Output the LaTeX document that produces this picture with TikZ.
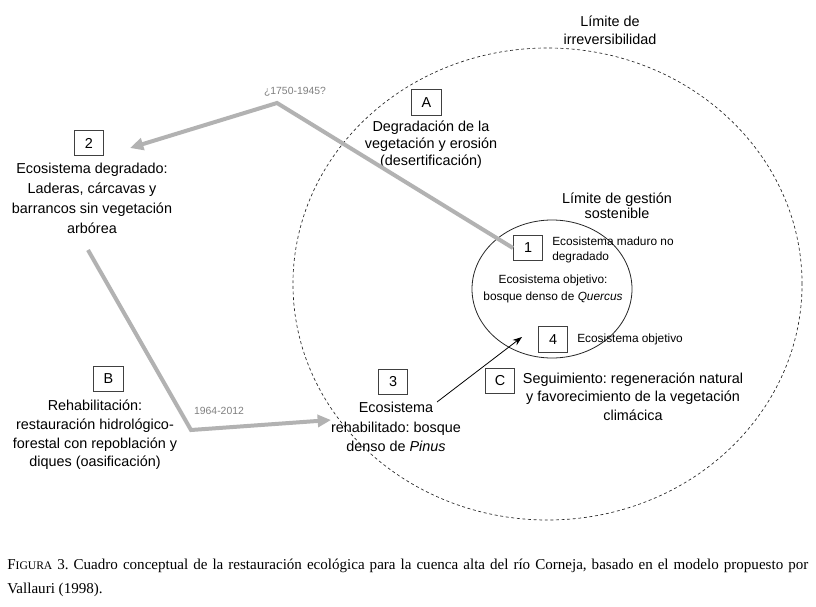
\documentclass[tikz,border=0pt]{standalone}
\usepackage{fontspec}
\setmainfont{Liberation Sans}
\newfontfamily\capfont{Liberation Serif}
\usetikzlibrary{arrows.meta}
\definecolor{flowgray}{gray}{0.7}
\definecolor{yeargray}{gray}{0.5}
\frenchspacing

\begin{document}
\begin{tikzpicture}[x=0.75pt,y=-0.75pt,
    numbox/.style={draw=black!75, line width=0.6pt, minimum width=22pt,
      minimum height=19pt, inner sep=0pt, font=\fontsize{10.8}{13}\selectfont},
    bigtext/.style={align=center, inner sep=0pt, font=\fontsize{10.8}{#1}\selectfont},
    bigtext/.default=15,
    smalltext/.style={inner sep=0pt, font=\fontsize{8.9}{11.3}\selectfont},
    yearlabel/.style={inner sep=0pt, text=yeargray, font=\fontsize{7.8}{9}\selectfont},
    flow/.style={draw=flowgray, line width=3pt, -{Triangle[length=10pt,width=9pt]}},
    limit/.style={draw=black!85, line width=0.5pt, dash pattern=on 2.2pt off 2pt}
  ]
  \path[use as bounding box, fill=white] (0,0) rectangle (816,606);

  % limits
  \draw[limit] (547.5,284) ellipse [x radius=190.9pt, y radius=177pt];
  \draw[black!85, line width=0.6pt] (552,289) ellipse [x radius=60pt, y radius=51.75pt];
  \node[bigtext=13.5] (limirr) at (610,30) {Límite de\\irreversibilidad};
  \node[bigtext=11.25] (limgest) at (617,205.5) {Límite de gestión\\sostenible};

  % boxes
  \node[numbox] (b2) at (89,143) {2};
  \node[numbox] (bA) at (426.5,102.5) {A};
  \node[numbox] (b1) at (528,248) {1};
  \node[numbox] (b4) at (553,339.5) {4};
  \node[numbox] (bB) at (108.5,379) {B};
  \node[numbox] (b3) at (393,382) {3};
  \node[numbox] (bC) at (500,381) {C};

  % texts
  \node[bigtext=15] (degr) at (92,198)
    {Ecosistema degradado:\\Laderas, cárcavas y\\barrancos sin vegetación\\arbórea};
  \node[bigtext=12.75] (textA) at (431,145)
    {Degradación de la\\vegetación y erosión\\(desertificación)};
  \node[bigtext=14] (textB) at (95,435)
    {Rehabilitación:\\restauración hidrológico-\\forestal con repoblación y\\diques (oasificación)};
  \node[bigtext=14.6] (pinus) at (396,427)
    {Ecosistema\\rehabilitado: bosque\\denso de \textit{Pinus}};
  \node[bigtext=13.9] (textC) at (633,396.5)
    {Seguimiento: regeneración natural\\y favorecimiento de la vegetación\\climácica};
  \node[smalltext, anchor=west, align=left] (maduro) at (552,249.5)
    {Ecosistema maduro no\\degradado};
  \node[smalltext, align=center, font=\fontsize{8.9}{13}\selectfont] (quercus) at (553,289)
    {Ecosistema objetivo:\\bosque denso de \textit{Quercus}};
  \node[smalltext, anchor=west] (obj4) at (577,339) {Ecosistema objetivo};

  % flows
  \coordinate (peak) at (277,103);
  \coordinate (to2) at (130,148);
  \draw[flow] (b1.west) -- (peak) -- (to2);
  \node[yearlabel] (year1) at (295,92) {¿1750-1945?};

  \coordinate (from2) at (88,250);
  \coordinate (bend) at (191,430);
  \coordinate (to3) at (331,420);
  \draw[flow] (from2) -- (bend) -- (to3);
  \node[yearlabel] (year2) at (219,411) {1964-2012};

  \coordinate (from3) at (437,402);
  \coordinate (to4) at (522,337);
  \draw[line width=0.6pt, -{Stealth[length=7pt,width=5pt]}] (from3) -- (to4);

  % caption
  \node[anchor=west, inner sep=0pt, align=left,
    font=\capfont\fontsize{11.3}{18}\selectfont] (caption) at (7,578)
    {\makebox[600.75pt][s]{F{\fontsize{8.7}{18}\selectfont IGURA} 3. Cuadro conceptual de la restauración ecológica para la cuenca alta del río Corneja, basado en el modelo propuesto por}\\Vallauri (1998).};
\end{tikzpicture}
\end{document}
